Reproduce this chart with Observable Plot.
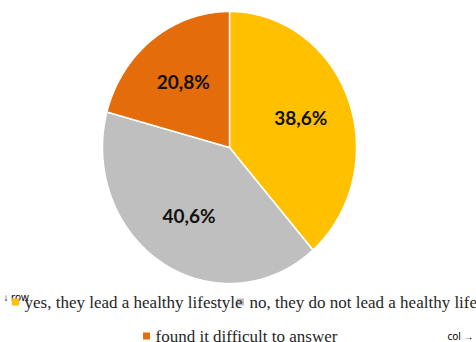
<!DOCTYPE html>
<html>
<head>
<meta charset="utf-8">
<script src="https://cdn.jsdelivr.net/npm/d3@7"></script>
<script src="https://cdn.jsdelivr.net/npm/@observablehq/plot@0.6"></script>
</head>
<body style="margin:0">
<div id="chart"></div>
<div id="legend"></div>
<script>
const categories = ["yes, they lead a healthy lifestyle", "no, they do not lead a healthy lifestyle", "found it difficult to answer"];
const values = [38.6, 40.6, 20.8];
const labels = ["38,6%", "40,6%", "20,8%"];
const colors = ["#FFC000", "#BFBFBF", "#E46C0A"];

const total = d3.sum(values);
const pts = [];
const labelPts = [];
let cum = 0;
values.forEach((v, i) => {
  const a0 = cum / total * 2 * Math.PI;
  const a1 = (cum + v) / total * 2 * Math.PI;
  cum += v;
  pts.push({x: 0, y: 0, k: categories[i]});
  const n = Math.max(2, Math.ceil((a1 - a0) / (Math.PI / 360)));
  for (let j = 0; j <= n; j++) {
    const a = a0 + (a1 - a0) * j / n;
    pts.push({x: Math.sin(a), y: Math.cos(a), k: categories[i]});
  }
  pts.push({x: 0, y: 0, k: categories[i]});
  const am = (a0 + a1) / 2;
  labelPts.push({x: 0.6 * Math.sin(am), y: 0.6 * Math.cos(am), t: labels[i]});
});

const chart = Plot.plot({
  width: 476,
  height: 290,
  margin: 0,
  style: {display: "block"},
  x: {domain: [-1, 1], range: [102, 356], axis: null},
  y: {domain: [-1, 1], range: [283, 11], axis: null},
  color: {domain: categories, range: colors},
  marks: [
    Plot.line(pts, {x: "x", y: "y", z: "k", fill: "k", stroke: "#fff", strokeWidth: 1.5, curve: "linear"}),
    Plot.text(labelPts, {x: "x", y: "y", text: "t", fontSize: 19, fontWeight: "bold", fill: "#111",
      fontFamily: "Lato"})
  ]
});
document.getElementById("chart").appendChild(chart);

// legend layout (two rows as in the reference), drawn as a second Plot
const legendLayout = [
  {k: categories[0], col: 12, row: 12},
  {k: categories[1], col: 237, row: 12},
  {k: categories[2], col: 143, row: 46}
];
const legendPlot = Plot.plot({
  width: 476,
  height: 52,
  margin: 0,
  style: {display: "block"},
  x: {type: "identity"},
  y: {type: "identity"},
  color: {domain: categories, range: colors},
  marks: [
    Plot.rect(legendLayout, {x1: "col", x2: d => d.col + 7, y1: d => d.row - 3.5, y2: d => d.row + 3.5, fill: "k"}),
    Plot.text(legendLayout, {x: d => d.col + 12, y: "row", text: "k", textAnchor: "start",
      fontFamily: "Liberation Serif", fontSize: 17, fill: "#262626"})
  ]
});
document.getElementById("legend").appendChild(legendPlot);
</script>
</body>
</html>
